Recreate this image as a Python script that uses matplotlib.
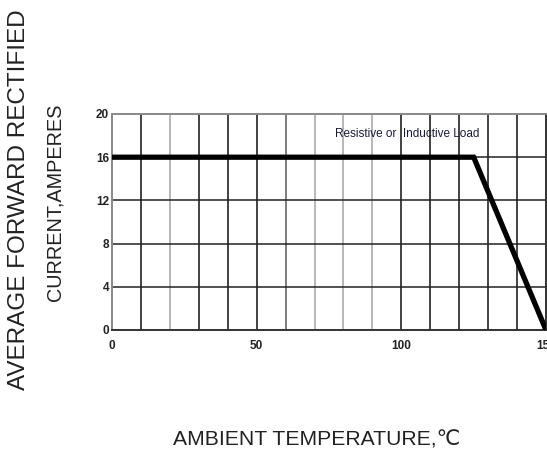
import matplotlib
matplotlib.use("Agg")
import matplotlib.pyplot as plt

# Data
temp = [0, 125, 150]
current = [16, 16, 0]
x_ticks = [0, 50, 100, 150]
y_ticks = [0, 4, 8, 12, 16, 20]
v_grid = [10, 20, 30, 40, 50, 60, 70, 80, 90, 100, 110, 120, 130, 140]
v_grid_colors = ["#222222", "#aaaaaa", "#222222", "#222222", "#222222", "#666666",
                 "#aaaaaa", "#aaaaaa", "#aaaaaa", "#222222", "#222222", "#222222",
                 "#222222", "#222222"]
h_grid = [4, 8, 12, 16]

fig = plt.figure(figsize=(5.47, 4.55), dpi=100)
ax = fig.add_axes([112/547, 125/455, 434/547, 216/455])
ax.set_xlim(0, 150)
ax.set_ylim(0, 20)

for xv, c in zip(v_grid, v_grid_colors):
    ax.axvline(xv, color=c, lw=1.2, zorder=1)
for yv in h_grid:
    ax.axhline(yv, color="#222222", lw=1.1, zorder=1)

ax.plot(temp, current, color="black", lw=3.8, solid_capstyle="butt",
        solid_joinstyle="miter", zorder=3)

for side in ["left", "top"]:
    ax.spines[side].set_color("#888888")
    ax.spines[side].set_linewidth(1.4)
for side in ["bottom", "right"]:
    ax.spines[side].set_color("#333333")
    ax.spines[side].set_linewidth(1.4)

ax.set_xticks(x_ticks)
ax.set_yticks(y_ticks)
ax.set_xticklabels([str(v) for v in x_ticks], fontsize=8.5, fontweight="bold",
                   family="Liberation Sans", color="#222222")
ax.set_yticklabels([str(v) for v in y_ticks], fontsize=8.5, fontweight="bold",
                   family="Liberation Sans", color="#222222")
ax.tick_params(axis="y", length=0, pad=2)
ax.tick_params(axis="x", length=0, pad=7)

ax.text(0.514, 0.907, "Resistive or  Inductive Load", transform=ax.transAxes,
        fontsize=8.5, family="Liberation Sans", color="#1a1a3a", ha="left", va="center",
        zorder=4)

fig.text(19/547, 1 - 200/455, "AVERAGE FORWARD RECTIFIED", rotation=90,
         fontsize=17.5, family="Liberation Sans", color="#222222", ha="center", va="center")
fig.text(55/547, 1 - 202/455, "CURRENT,AMPERES", rotation=90,
         fontsize=14.3, family="Liberation Sans", color="#222222", ha="center", va="center")
fig.text(317/547, 1 - 440/455, "AMBIENT TEMPERATURE,\u2103", fontsize=15.2,
         family=["Liberation Sans", "DejaVu Sans"], color="#222222",
         ha="center", va="center")

fig.savefig("out.png", dpi=100)
